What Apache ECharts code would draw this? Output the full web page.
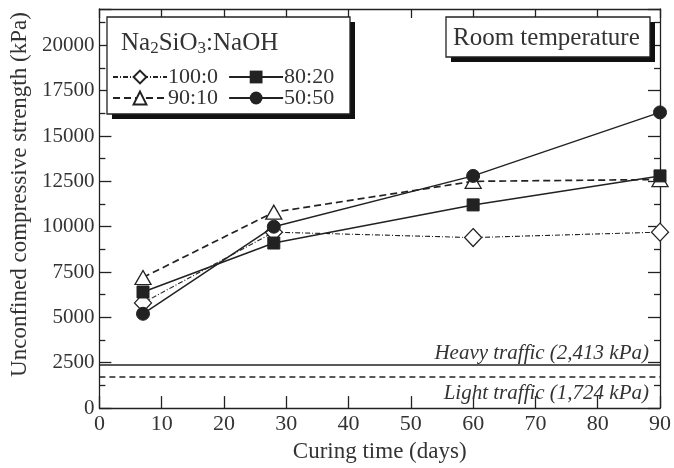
<!DOCTYPE html>
<html>
<head>
<meta charset="utf-8">
<script src="https://cdn.jsdelivr.net/npm/echarts@6/dist/echarts.min.js"></script>
<style>
  html, body { margin: 0; padding: 0; background: #fff; }
  #main { width: 674px; height: 468px; }
</style>
</head>
<body>
<div id="main"></div>
<script>
// curing time (days)
const days = [7, 28, 60, 90];
// Na2SiO3:NaOH ratios
const s100_0 = [5800, 9700, 9400, 9700];
const s90_10 = [7200, 10800, 12500, 12600];
const s80_20 = [6400, 9100, 11200, 12800];
const s50_50 = [5200, 10000, 12800, 16300];
// traffic thresholds (kPa)
const heavyTraffic = 2413;
const lightTraffic = 1724;

const INK = '#222';
const TXT = '#333';
const SERIF = '"Liberation Serif", "DejaVu Serif", serif';

const pairs = arr => days.map((d, i) => [d, arr[i]]);

const chart = echarts.init(document.getElementById('main'), null, { renderer: 'canvas' });

function axisCommon() {
  return {
    axisLine: { show: true, onZero: false, lineStyle: { color: INK, width: 1.3 } },
    splitLine: { show: false },
    axisTick: { show: true, inside: true, length: 12, lineStyle: { color: INK, width: 1.3 } }
  };
}

chart.setOption({
  animation: false,
  backgroundColor: '#fff',
  grid: { left: 97, right: 11, top: 9, bottom: 57 },
  xAxis: [{
    ...axisCommon(),
    type: 'value', min: 0, max: 90, interval: 10,
    name: 'Curing time (days)', nameLocation: 'middle', nameGap: 29,
    nameTextStyle: { fontFamily: SERIF, fontSize: 23, color: TXT },
    axisLabel: { fontFamily: SERIF, fontSize: 22, color: TXT, margin: 5 }
  }, {
    ...axisCommon(),
    type: 'value', min: 0, max: 90, interval: 10, position: 'top',
    axisTick: { show: true, inside: true, length: 9, lineStyle: { color: INK, width: 1.3 } },
    axisLabel: { show: false }
  }],
  yAxis: [{
    ...axisCommon(),
    type: 'value', min: 0, max: 22000, interval: 2500,
    name: 'Unconfined compressive strength (kPa)', nameLocation: 'middle', nameGap: 60,
    nameTextStyle: { fontFamily: SERIF, fontSize: 23, color: TXT, padding: [0, 0, 0, 28] },
    minorTick: { show: true, splitNumber: 2, length: 6, lineStyle: { color: INK, width: 1.3 } },
    axisLabel: {
      fontFamily: SERIF, fontSize: 21, color: TXT, margin: 5,
      formatter: v => (v % 2500 === 0 ? String(v) : '')
    }
  }, {
    ...axisCommon(),
    type: 'value', min: 0, max: 22000, interval: 2500, position: 'right',
    minorTick: { show: true, splitNumber: 2, length: 6, lineStyle: { color: INK, width: 1.3 } },
    axisLabel: { show: false }
  }],
  legend: [{
    data: ['100:0', '80:20'],
    left: 107, top: 61, itemWidth: 54, itemHeight: 16, itemGap: 10, z: 10,
    textStyle: { fontFamily: SERIF, fontSize: 22, color: TXT, padding: [0, 0, 0, -4] }
  }, {
    data: ['90:10', '50:50'],
    left: 107, top: 82, itemWidth: 54, itemHeight: 16, itemGap: 10, z: 10,
    textStyle: { fontFamily: SERIF, fontSize: 22, color: TXT, padding: [0, 0, 0, -4] }
  }],
  graphic: [
    { type: 'rect', z: 5, shape: { x: 112, y: 22, width: 243, height: 97 }, style: { fill: '#111' } },
    { type: 'rect', z: 6, shape: { x: 107, y: 17, width: 243, height: 97 }, style: { fill: '#fff', stroke: INK, lineWidth: 1.3 } },
    {
      type: 'text', z: 7, left: 121, top: 31,
      style: {
        text: 'Na{sub|2}SiO{sub|3}:NaOH',
        fontFamily: SERIF, fontSize: 25, fill: TXT,
        rich: { sub: { fontFamily: SERIF, fontSize: 17, fill: TXT, verticalAlign: 'bottom', padding: [10, 0, 0, 0] } }
      }
    },
    { type: 'rect', z: 5, shape: { x: 451, y: 22, width: 204, height: 40 }, style: { fill: '#111' } },
    { type: 'rect', z: 6, shape: { x: 446, y: 17, width: 204, height: 40 }, style: { fill: '#fff', stroke: INK, lineWidth: 1.3 } },
    {
      type: 'text', z: 7, left: 453, top: 26,
      style: { text: 'Room temperature', fontFamily: SERIF, fontSize: 25, fill: TXT }
    }
  ],
  series: [{
    name: '100:0', type: 'line', data: pairs(s100_0),
    symbol: 'diamond', symbolSize: [17, 18],
    lineStyle: { color: INK, width: 1.1, type: [5, 2, 1, 2] },
    itemStyle: { color: '#fff', borderColor: INK, borderWidth: 1.3 },
    z: 3
  }, {
    name: '90:10', type: 'line', data: pairs(s90_10),
    symbol: 'triangle', symbolSize: [16, 14],
    lineStyle: { color: INK, width: 1.7, type: [7, 4] },
    itemStyle: { color: '#fff', borderColor: INK, borderWidth: 1.3 },
    z: 3,
    markLine: {
      silent: true, symbol: 'none', animation: false,
      data: [{
        yAxis: heavyTraffic,
        lineStyle: { color: INK, width: 1.6, type: 'solid' },
        label: {
          formatter: 'Heavy traffic (2,413 kPa)', position: 'insideEndTop', distance: [11, 0],
          fontFamily: SERIF, fontStyle: 'italic', fontSize: 21, color: TXT
        }
      }, {
        yAxis: lightTraffic,
        lineStyle: { color: INK, width: 1.6, type: [6, 4] },
        label: {
          formatter: 'Light traffic (1,724 kPa)', position: 'insideEndBottom', distance: [11, 6],
          fontFamily: SERIF, fontStyle: 'italic', fontSize: 21, color: TXT
        }
      }]
    }
  }, {
    name: '80:20', type: 'line', data: pairs(s80_20),
    symbol: 'rect', symbolSize: 12,
    lineStyle: { color: INK, width: 1.5 },
    itemStyle: { color: INK, borderColor: INK },
    z: 4
  }, {
    name: '50:50', type: 'line', data: pairs(s50_50),
    symbol: 'circle', symbolSize: 13,
    lineStyle: { color: INK, width: 1.5 },
    itemStyle: { color: INK, borderColor: INK },
    z: 4
  }]
});
</script>
</body>
</html>
